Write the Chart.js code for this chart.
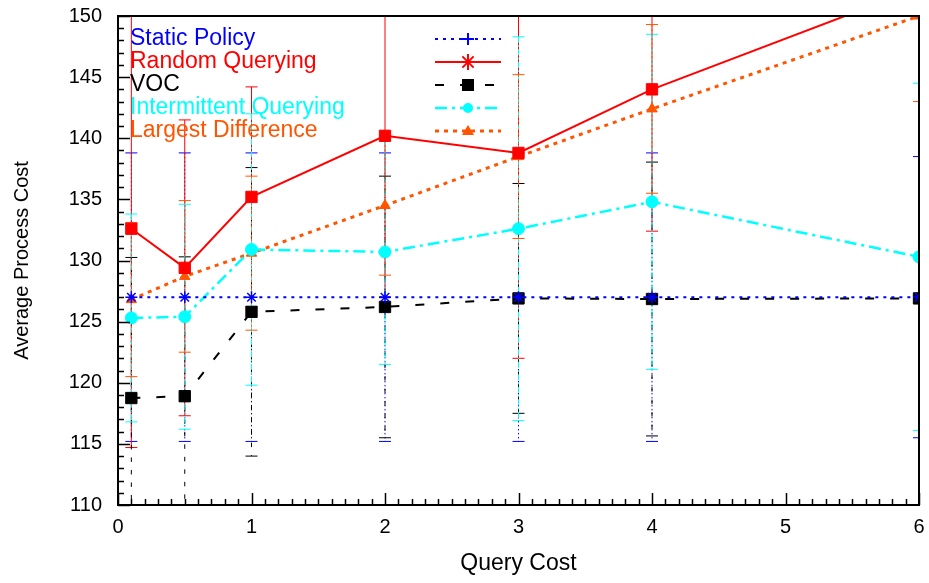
<!DOCTYPE html>
<html>
<head>
<meta charset="utf-8">
<script src="https://cdn.jsdelivr.net/npm/chart.js@4.4.1/dist/chart.umd.min.js"></script>
<style>
  html, body { margin: 0; padding: 0; background: #fff; }
  #wrap { width: 929px; height: 583px; position: relative; }
</style>
</head>
<body>
<div id="wrap"><canvas id="myChart"></canvas></div>
<script>
// query cost values (x axis)
const queryCost = [0.1, 0.5, 1, 2, 3, 4, 6];

// average process cost per policy
const staticPolicy = [127, 127, 127, 127, 127, 127, 127];
const randomQuerying = [132.6, 129.4, 135.2, 140.2, 138.8, 144.0, 152.3];
const vocValues = [118.75, 118.9, 125.8, 126.2, 126.9, 126.85, 126.9];
const intermittentQuerying = [125.3, 125.4, 130.9, 130.7, 132.6, 134.8, 130.3];
const largestDifference = [126.8, 128.7, 130.6, 134.5, 138.5, 142.4, 150.0];

// half-width of the error bars
const staticErr = [11.8, 11.8, 11.8, 11.8, 11.8, 11.8, 11.5];
const randomErr = [17.9, 12.1, 9.0, 13.2, 16.8, 11.6, 2];
const vocErr = [11.5, 11.4, 11.8, 10.7, 9.4, 11.2, 25];
const intermittentErr = [8.5, 9.2, 11.1, 9.2, 15.7, 13.7, 14.2];
const largestErr = [6.3, 6.2, 6.3, 5.7, 6.7, 6.9, 7];

const xTicks = [0, 1, 2, 3, 4, 5, 6];
const yTicks = [110, 115, 120, 125, 130, 135, 140, 145, 150];

const FONT = "'Liberation Sans', Arial, sans-serif";

function toPoints(ys) {
  return queryCost.map((x, i) => ({ x: x, y: ys[i] }));
}

const series = [
  { label: "Static Policy", data: staticPolicy, err: staticErr, color: "#0000ff",
    dash: [3, 5], width: 2, point: "star", radius: 6 },
  { label: "Random Querying", data: randomQuerying, err: randomErr, color: "#ff0000",
    dash: [], width: 2, point: "rect", radius: 8 },
  { label: "VOC", data: vocValues, err: vocErr, color: "#000000",
    dash: [9, 16], width: 2, point: "rect", radius: 8 },
  { label: "Intermittent Querying", data: intermittentQuerying, err: intermittentErr, color: "#00ffff",
    dash: [12, 5, 3, 5], width: 2.5, point: "circle", radius: 6 },
  { label: "Largest Difference", data: largestDifference, err: largestErr, color: "#ff5500",
    dash: [4, 5], width: 3, point: "triangle", radius: 6 },
];

const datasets = series.map((s) => ({
  label: s.label,
  data: toPoints(s.data),
  borderColor: s.color,
  backgroundColor: s.color,
  borderWidth: s.width,
  borderDash: s.dash,
  pointStyle: s.point,
  pointRadius: s.radius,
  pointBorderWidth: s.point === "star" ? 1.5 : 1,
  pointBorderColor: s.color,
  pointBackgroundColor: s.color,
  fill: false,
  tension: 0,
  clip: 0,
}));

// error bars drawn under the lines
const errorBars = {
  id: "errorBars",
  beforeDatasetsDraw(chart) {
    const ctx = chart.ctx;
    const a = chart.chartArea;
    const xs = chart.scales.x, ys = chart.scales.y;
    ctx.save();
    ctx.beginPath();
    ctx.rect(a.left, a.top, a.right - a.left, a.bottom - a.top);
    ctx.clip();
    series.forEach((s) => {
      const barDash = s.dash.length ? s.dash.map((d) => Math.max(1, d / 2)) : [];
      ctx.strokeStyle = s.color;
      ctx.lineWidth = 1;
      queryCost.forEach((q, i) => {
        const px = xs.getPixelForValue(q);
        const top = ys.getPixelForValue(s.data[i] + s.err[i]);
        const bot = ys.getPixelForValue(s.data[i] - s.err[i]);
        ctx.setLineDash(barDash);
        ctx.beginPath();
        ctx.moveTo(px, top);
        ctx.lineTo(px, bot);
        ctx.stroke();
        ctx.setLineDash([]);
        ctx.beginPath();
        ctx.moveTo(px - 6, top); ctx.lineTo(px + 6, top);
        ctx.moveTo(px - 6, bot); ctx.lineTo(px + 6, bot);
        ctx.stroke();
      });
    });
    ctx.restore();
  },
};

function drawMarker(ctx, s, x, y) {
  const r = s.radius;
  ctx.fillStyle = s.color;
  ctx.strokeStyle = s.color;
  ctx.lineWidth = 2;
  ctx.setLineDash([]);
  ctx.beginPath();
  if (s.label === "Static Policy") {
    ctx.moveTo(x - r, y); ctx.lineTo(x + r, y);
    ctx.moveTo(x, y - r); ctx.lineTo(x, y + r);
    ctx.stroke();
  } else if (s.label === "Random Querying") {
    ctx.moveTo(x - r, y); ctx.lineTo(x + r, y);
    ctx.moveTo(x, y - r); ctx.lineTo(x, y + r);
    ctx.moveTo(x - r * 0.7, y - r * 0.7); ctx.lineTo(x + r * 0.7, y + r * 0.7);
    ctx.moveTo(x - r * 0.7, y + r * 0.7); ctx.lineTo(x + r * 0.7, y - r * 0.7);
    ctx.stroke();
  } else if (s.point === "rect") {
    ctx.fillRect(x - 6, y - 6, 12, 12);
  } else if (s.point === "circle") {
    ctx.arc(x, y, 5, 0, Math.PI * 2);
    ctx.fill();
  } else {
    ctx.moveTo(x, y - 6); ctx.lineTo(x + 6, y + 4); ctx.lineTo(x - 6, y + 4);
    ctx.closePath();
    ctx.fill();
  }
}

// legend inside the plot, gnuplot style
const insideLegend = {
  id: "insideLegend",
  afterDraw(chart) {
    const ctx = chart.ctx;
    const a = chart.chartArea;
    ctx.save();
    ctx.font = "23px " + FONT;
    ctx.textBaseline = "middle";
    series.forEach((s, i) => {
      const y = a.top + 23 + i * 23;
      ctx.fillStyle = s.color;
      ctx.fillText(s.label, a.left + 12, y);
      ctx.strokeStyle = s.color;
      ctx.lineWidth = s.width;
      ctx.setLineDash(s.dash);
      ctx.beginPath();
      ctx.moveTo(a.left + 317, y);
      ctx.lineTo(a.left + 383, y);
      ctx.stroke();
      drawMarker(ctx, s, a.left + 350, y);
    });
    ctx.restore();
  },
};

// frame and inward tick marks
const frameTicks = {
  id: "frameTicks",
  afterDraw(chart) {
    const ctx = chart.ctx;
    const a = chart.chartArea;
    const xs = chart.scales.x, ys = chart.scales.y;
    ctx.save();
    ctx.strokeStyle = "#000";
    ctx.setLineDash([]);
    ctx.lineWidth = 2;
    ctx.strokeRect(a.left, a.top, a.right - a.left, a.bottom - a.top);
    ctx.lineWidth = 1.5;
    ctx.beginPath();
    for (let v = 110; v <= 150; v++) {
      const py = Math.round(ys.getPixelForValue(v)) + 0.5;
      const len = v % 5 === 0 ? 12 : 6;
      ctx.moveTo(a.left, py); ctx.lineTo(a.left + len, py);
    }
    for (let k = 0; k <= 60; k++) {
      const px = Math.round(xs.getPixelForValue(k / 10)) + 0.5;
      const len = k % 10 === 0 ? 12 : 6;
      ctx.moveTo(px, a.bottom); ctx.lineTo(px, a.bottom - len);
    }
    ctx.stroke();
    ctx.restore();
  },
};

function noOverhang(scale) {
  scale.paddingTop = 0;
  scale.paddingBottom = 0;
  scale.paddingLeft = 0;
  scale.paddingRight = 0;
}

const ctx = document.getElementById("myChart").getContext("2d");
new Chart(ctx, {
  type: "line",
  data: { datasets: datasets },
  options: {
    responsive: true,
    maintainAspectRatio: false,
    animation: false,
    layout: { padding: { top: 16, right: 10, left: 0, bottom: 0 } },
    plugins: {
      legend: { display: false },
      tooltip: { enabled: false },
    },
    scales: {
      x: {
        type: "linear",
        min: 0,
        max: 6,
        afterBuildTicks: (scale) => { scale.ticks = xTicks.map((v) => ({ value: v })); },
        afterFit: (scale) => { scale.height = 78; noOverhang(scale); },
        grid: { display: false, drawTicks: false },
        border: { display: false },
        ticks: { color: "#000", padding: 10, font: { family: FONT, size: 20 } },
        title: {
          display: true,
          text: "Query Cost",
          color: "#000",
          padding: { top: 0, bottom: 6 },
          font: { family: FONT, size: 23 },
        },
      },
      y: {
        type: "linear",
        min: 110,
        max: 150,
        afterBuildTicks: (scale) => { scale.ticks = yTicks.map((v) => ({ value: v })); },
        afterFit: (scale) => { scale.width = 118; noOverhang(scale); },
        grid: { display: false, drawTicks: false },
        border: { display: false },
        ticks: { color: "#000", padding: 16, font: { family: FONT, size: 20 } },
        title: {
          display: true,
          text: "Average Process Cost",
          color: "#000",
          padding: { top: 10, bottom: 0 },
          font: { family: FONT, size: 20 },
        },
      },
    },
  },
  plugins: [errorBars, insideLegend, frameTicks],
});
</script>
</body>
</html>
